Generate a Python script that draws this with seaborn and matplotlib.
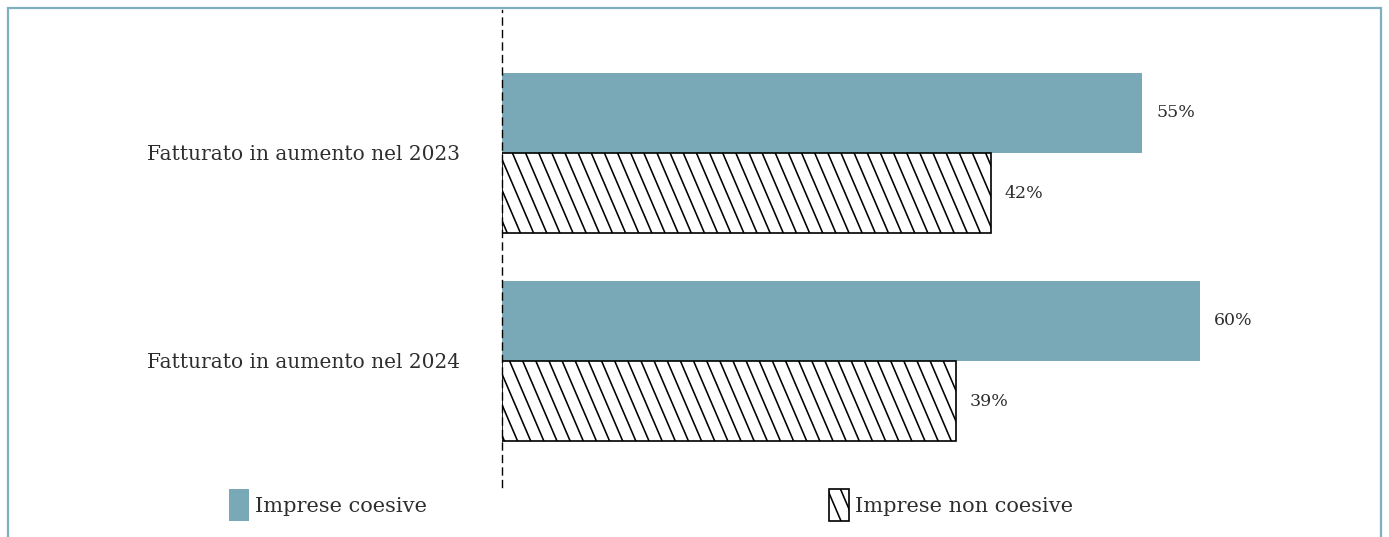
import numpy as np
import pandas as pd
import matplotlib
matplotlib.use("Agg")
import matplotlib.pyplot as plt
import matplotlib.hatch as mhatch
from matplotlib.path import Path
from matplotlib.patches import Patch, Rectangle
import seaborn as sns

# ---- data ----
categories = ["Fatturato in aumento nel 2023", "Fatturato in aumento nel 2024"]
groups = ["Imprese coesive", "Imprese non coesive"]
coesive = [55, 60]
non_coesive = [42, 39]

# ---- steeper "\" hatch to mimic the reference ----
class SteepSouthEastHatch(mhatch.HatchPatternBase):
    def __init__(self, hatch, density):
        cnt = hatch.count('\\') + hatch.count('x') + hatch.count('X')
        self.n = 7 * cnt
        self.k = 3 * cnt
        self.num_vertices = 2 * (self.n + self.k + 1) if self.n else 0

    def set_vertices_and_codes(self, vertices, codes):
        n, k = self.n, self.k
        j = np.arange(-k, n + 1)
        x0 = j / n
        vertices[0::2, 0] = x0
        vertices[0::2, 1] = 1.0
        vertices[1::2, 0] = x0 + k / n
        vertices[1::2, 1] = 0.0
        codes[0::2] = Path.MOVETO
        codes[1::2] = Path.LINETO

_orig = getattr(mhatch, "SouthEastHatch", None) or getattr(mhatch, "SouthWestHatch")
mhatch._hatch_types[mhatch._hatch_types.index(_orig)] = SteepSouthEastHatch

W, H, DPI = 1389, 537, 92
S = 100 / DPI  # keep pixel sizes as designed for 100 dpi

sns.set_theme(style="white")
plt.rcParams["font.family"] = ["DejaVu Serif"]
plt.rcParams["hatch.linewidth"] = 1.25

bar_color = "#79a9b7"
frame_color = "#7fb0bf"
text_color = "#2e2e2e"

df = pd.DataFrame({
    "categoria": categories * 2,
    "gruppo": [groups[0]] * len(categories) + [groups[1]] * len(categories),
    "valore": coesive + non_coesive,
})

fig = plt.figure(figsize=(W / DPI, H / DPI), dpi=DPI)
fig.patch.set_facecolor("white")

ax_left, ax_right = 502 / W, 1375 / W
ax_top, ax_bot = 1 - 10 / H, 1 - 487 / H
ax = fig.add_axes([ax_left, ax_bot, ax_right - ax_left, ax_top - ax_bot])

sns.barplot(data=df, x="valore", y="categoria", hue="gruppo", orient="h",
            order=categories, hue_order=groups, width=0.77,
            palette={groups[0]: bar_color, groups[1]: "white"},
            saturation=1, legend=False, ax=ax)

c_coes, c_non = ax.containers[0], ax.containers[1]
for p in c_coes:
    p.set_edgecolor("none")
    p.set_linewidth(0)
for p in c_non:
    p.set_facecolor("white")
    p.set_edgecolor("black")
    p.set_linewidth(1.2 * S)
    p.set_hatch("\\")

ax.bar_label(c_coes, labels=[f"{v}%" for v in coesive], padding=10 * S,
             fontsize=12.5 * S, color=text_color)
ax.bar_label(c_non, labels=[f"{v}%" for v in non_coesive], padding=10 * S,
             fontsize=12.5 * S, color=text_color)

ax.set_xlim(0, 75)
ax.set_ylim(1.606, -0.6875)
ax.set_xlabel("")
ax.set_ylabel("")
ax.set_xticks([])
ax.tick_params(axis="y", length=0, pad=30 * S, labelsize=14.5 * S, labelcolor=text_color)
for s in ["top", "right", "bottom"]:
    ax.spines[s].set_visible(False)
ax.spines["left"].set_color("black")
ax.spines["left"].set_linewidth(1.0 * S)
ax.spines["left"].set_linestyle((0, (5, 4)))
ax.set_facecolor("none")

# legends
h1 = Patch(facecolor=bar_color, edgecolor="none")
h2 = Patch(facecolor="white", edgecolor="black", linewidth=1.2 * S, hatch="\\")
leg_kw = dict(loc="center left", frameon=False, borderpad=0, borderaxespad=0,
              fontsize=15 * S, handlelength=0.95, handleheight=2.0, handletextpad=0.3,
              labelcolor=text_color)
fig.legend([h1], [groups[0]], bbox_to_anchor=(229 / W, 1 - 505 / H), **leg_kw)
fig.legend([h2], [groups[1]], bbox_to_anchor=(829 / W, 1 - 505 / H), **leg_kw)

# outer frame
fig.patches.append(Rectangle((8 / W, -0.1), (1381 - 8) / W, (1 - 8 / H) + 0.1,
                             transform=fig.transFigure, fill=False,
                             edgecolor=frame_color, linewidth=1.6 * S, zorder=0))

fig.savefig("out.png", dpi=DPI, facecolor="white")
